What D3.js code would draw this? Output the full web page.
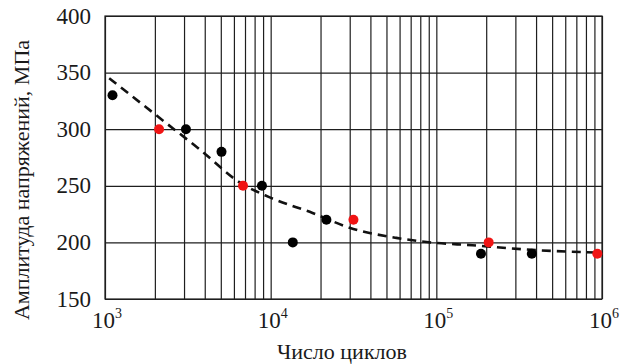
<!DOCTYPE html>
<head><meta charset="utf-8">
<style>
svg text, svg tspan { font-family: "Liberation Serif", "Times New Roman", Tinos !important; }
</style>
</head>
<body style="margin:0">
<script src="https://cdn.jsdelivr.net/npm/d3@7"></script>
<script>
// data
var blackN = [1.11e3, 3.08e3, 5.05e3, 8.86e3, 1.36e4, 2.17e4, 1.86e5, 3.77e5];
var blackS = [330, 300, 280, 250, 200, 220, 190, 190];
var redN = [2.12e3, 6.81e3, 3.16e4, 2.07e5, 9.37e5];
var redS = [300, 250, 220, 200, 190];
var fitN = [1.06e3, 2.36e3, 3.74e3, 6.5e3, 9.8e3, 1.79e4, 2.99e4, 5.74e4, 1e5, 1.65e5, 2.64e5, 4.2e5, 7.5e5, 1e6];
var fitS = [345, 305, 282, 253, 240, 226, 213, 204, 199.5, 197.5, 195, 193, 191.5, 191];
var yTicks = [150, 200, 250, 300, 350, 400];
var xDecades = [3, 4, 5, 6];

var W = 620, H = 364;
var pL = 105, pR = 602, pT = 16, pB = 299;
var ink = "#1a1a1a";

var svg = d3.select("body").append("svg")
  .attr("width", W)
  .attr("height", H)
  .attr("font-family", "Liberation Serif");

var x = d3.scaleLog().domain([1e3, 1e6]).range([pL, pR]);
var y = d3.scaleLinear().domain([150, 400]).range([pB, pT]);

// vertical grid: every 1..9 x 10^k
var minor = [];
xDecades.forEach(function(e) {
  for (var m = 1; m <= 9; m++) {
    var v = m * Math.pow(10, e);
    if (v <= 1e6) minor.push(v);
  }
});

var gx = svg.append("g")
  .attr("transform", "translate(0," + pB + ")")
  .call(d3.axisBottom(x).tickValues(minor).tickSize(-(pB - pT)).tickFormat(""));
var gy = svg.append("g")
  .attr("transform", "translate(" + pL + ",0)")
  .call(d3.axisLeft(y).tickValues(yTicks).tickSize(-(pR - pL)).tickFormat(""));
[gx, gy].forEach(function(g) {
  g.select(".domain").remove();
  g.selectAll("line").attr("stroke", "#1e1e1e").attr("stroke-width", 1.2);
});

svg.append("rect")
  .attr("x", pL).attr("y", pT)
  .attr("width", pR - pL).attr("height", pB - pT)
  .attr("fill", "none")
  .attr("stroke", "#1e1e1e")
  .attr("stroke-width", 1.2);

var labels = svg.append("g").attr("font-family", "Liberation Serif");

// y tick labels
labels.selectAll(".ylab").data(yTicks).enter().append("text")
  .attr("class", "ylab")
  .attr("x", 91)
  .attr("y", function(d) { return y(d) + 7.5; })
  .attr("text-anchor", "end")
  .attr("font-size", 23)
  .attr("fill", ink)
  .text(function(d) { return d; });

// x tick labels 10^k
var xl = labels.selectAll(".xlab").data(xDecades).enter().append("text")
  .attr("class", "xlab")
  .attr("x", function(d) { return x(Math.pow(10, d)) + 2; })
  .attr("y", 328)
  .attr("text-anchor", "middle")
  .attr("font-size", 23)
  .attr("fill", ink);
xl.append("tspan").text("10");
xl.append("tspan")
  .attr("dy", -10)
  .attr("font-size", 14)
  .text(function(d) { return d; });

// axis titles
labels.append("text")
  .attr("x", 342)
  .attr("y", 359)
  .attr("text-anchor", "middle")
  .attr("font-size", 22)
  .attr("fill", ink)
  .text("Число циклов");

labels.append("text")
  .attr("transform", "translate(29,180) rotate(-90)")
  .attr("text-anchor", "middle")
  .attr("font-size", 22)
  .attr("fill", ink)
  .text("Амплитуда напряжений, МПа");

// fitted curve
var fit = fitN.map(function(n, i) { return [n, fitS[i]]; });
svg.append("path")
  .datum(fit)
  .attr("fill", "none")
  .attr("stroke", "#111")
  .attr("stroke-width", 2.6)
  .attr("stroke-dasharray", "9,6")
  .attr("d", d3.line()
    .x(function(d) { return x(d[0]); })
    .y(function(d) { return y(d[1]); })
    .curve(d3.curveMonotoneX));

// points
svg.selectAll(".blk").data(blackN).enter().append("circle")
  .attr("class", "blk")
  .attr("cx", function(d) { return x(d); })
  .attr("cy", function(d, i) { return y(blackS[i]); })
  .attr("r", 5)
  .attr("fill", "#000");

svg.selectAll(".red").data(redN).enter().append("circle")
  .attr("class", "red")
  .attr("cx", function(d) { return x(d); })
  .attr("cy", function(d, i) { return y(redS[i]); })
  .attr("r", 5)
  .attr("fill", "#f01414");
</script>
</body>
